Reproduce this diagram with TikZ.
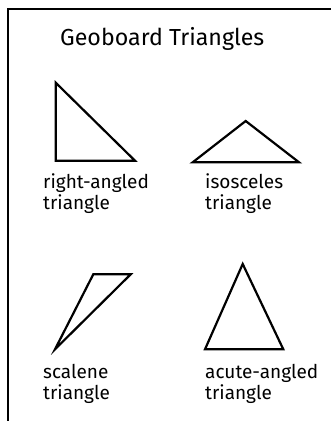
\documentclass[tikz,border=0pt]{standalone}
\usepackage{fontspec}
\setmainfont{Fira Sans}
\begin{document}
\begin{tikzpicture}[x=1pt,y=-1pt,
  tri/.style={draw=black,line width=2.2pt,line join=miter},
  lbl/.style={anchor=base west,inner sep=0pt,font=\fontsize{19}{21}\selectfont,align=left},
  ttl/.style={anchor=base west,inner sep=0pt,font=\fontsize{23.2}{28}\selectfont}]
\useasboundingbox (0,0) rectangle (331,421);
\draw[line width=2.3pt] (332,9) coordinate (fr) -- (8,9) coordinate (fc) -- (8,422) coordinate (fb);
\node[ttl] (title) at (60,45) {Geoboard Triangles};
% right-angled
\coordinate (r1) at (55.7,82.7);
\coordinate (r2) at (55.7,160.7);
\coordinate (r3) at (135,160.7);
\draw[tri] (r1) -- (r2) -- (r3) -- cycle;
% isosceles
\coordinate (i1) at (245.7,121);
\coordinate (i2) at (192.7,162.3);
\coordinate (i3) at (299,162.3);
\draw[tri] (i1) -- (i2) -- (i3) -- cycle;
% scalene
\coordinate (s1) at (93.3,274.3);
\coordinate (s2) at (130.7,274.3);
\coordinate (s3) at (55,349.3);
\draw[tri] (s1) -- (s2) -- (s3) -- cycle;
% acute
\coordinate (a1) at (242.7,264);
\coordinate (a2) at (205,349.3);
\coordinate (a3) at (283.3,349.3);
\draw[tri] (a1) -- (a2) -- (a3) -- cycle;
\node[lbl] (lr) at (43,209) {right-angled\\triangle};
\node[lbl] (li) at (205,209) {isosceles\\triangle};
\node[lbl] (ls) at (43,399) {scalene\\triangle};
\node[lbl] (la) at (205,399) {acute-angled\\triangle};
\end{tikzpicture}
\end{document}
